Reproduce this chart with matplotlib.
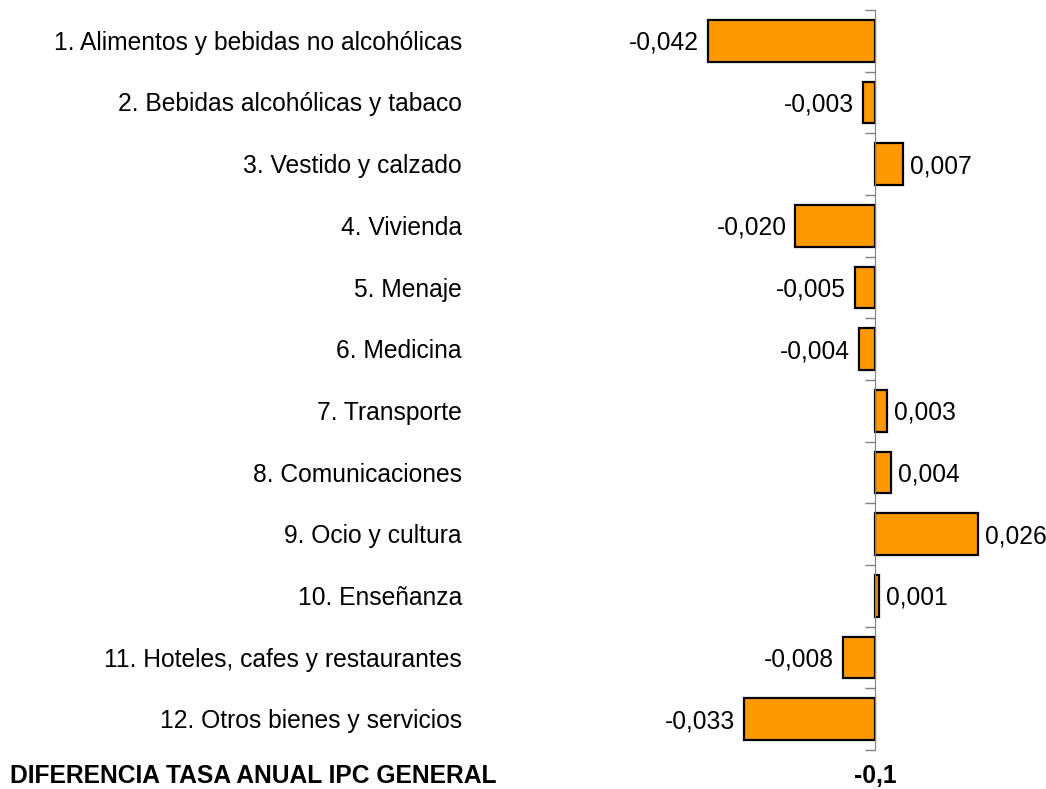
import numpy as np
import matplotlib
matplotlib.use('Agg')
import matplotlib.pyplot as plt
import matplotlib.transforms as mtransforms

plt.rcParams['font.family'] = ['Liberation Sans', 'DejaVu Sans']

categories = ['1. Alimentos y bebidas no alcohólicas', '2. Bebidas alcohólicas y tabaco',
        '3. Vestido y calzado', '4. Vivienda', '5. Menaje', '6. Medicina',
        '7. Transporte', '8. Comunicaciones', '9. Ocio y cultura', '10. Enseñanza',
        '11. Hoteles, cafes y restaurantes', '12. Otros bienes y servicios']
values = [-0.042, -0.003, 0.007, -0.020, -0.005, -0.004,
        0.003, 0.004, 0.026, 0.001, -0.008, -0.033]
total_label = 'DIFERENCIA TASA ANUAL IPC GENERAL'
total_value = '-0,1'

W, H = 1046, 789
fig = plt.figure(figsize=(W/100, H/100), dpi=100)
# axes from px 600 to 1040 horizontally, 10 to 750 vertically
ax = fig.add_axes([600/W, (H-750)/H, 440/W, 740/H])
scale = 3976.  # px per unit
ax.set_xlim(-(875-600)/scale, (1040-875)/scale)

n = len(values)
ypos = np.arange(n)
ax.barh(ypos, values, height=0.68, color='#FF9900', edgecolor='black', linewidth=1.6, zorder=2)
ax.set_ylim(n-0.5, -0.5)

for s in ['top', 'right', 'bottom']:
    ax.spines[s].set_visible(False)
ax.spines['left'].set_position(('data', 0))
ax.spines['left'].set_color('#808080')
ax.spines['left'].set_zorder(3)
ax.set_yticks(np.arange(n+1)-0.5)
ax.set_yticklabels([])
ax.tick_params(axis='y', direction='out', length=7, color='#808080', width=1.0)
ax.set_xticks([])

fs = 17.7
shift = mtransforms.ScaledTranslation(0, -2/100, fig.dpi_scale_trans)
trans = mtransforms.blended_transform_factory(fig.transFigure, ax.transData) + shift
for i, (c, v) in enumerate(zip(categories, values)):
    ax.text(462/W, i, c, fontsize=fs, ha='right', va='center', transform=trans)
    txt = f'{v:.3f}'.replace('.', ',')
    if v < 0:
        ax.annotate(txt, xy=(v, i), xytext=(-9, -2), textcoords='offset pixels',
                ha='right', va='center', fontsize=fs)
    else:
        ax.annotate(txt, xy=(v, i), xytext=(7, -2), textcoords='offset pixels',
                ha='left', va='center', fontsize=fs)

fig.text(10/W, (H-776)/H, total_label, fontsize=fs, fontweight='bold', ha='left', va='center')
fig.text(875/W, (H-776)/H, total_value, fontsize=fs, fontweight='bold', ha='center', va='center')

fig.savefig('out.png', dpi=100)
